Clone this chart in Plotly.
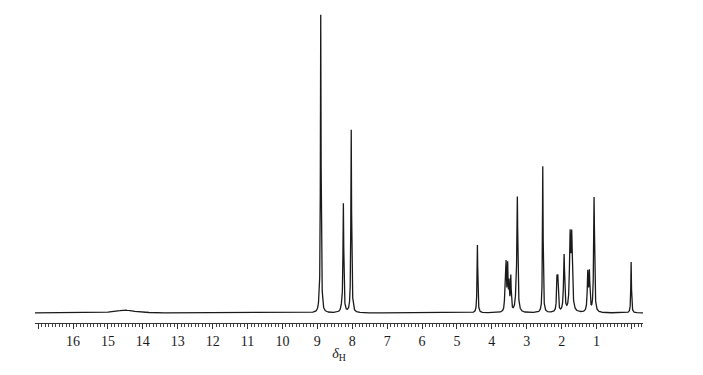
import numpy as np
import plotly.graph_objects as go

# Peak list (ppm, height in arbitrary units, half-width in ppm)
peak_ppm = [14.50, 8.955, 8.903, 8.86, 8.30, 8.255, 8.03, 7.98,
            4.415, 3.622, 3.593, 3.548, 3.507, 3.458, 3.295, 3.270,
            2.541, 2.135, 2.110, 1.931, 1.759, 1.711, 1.253, 1.206, 1.072, 0.010]
peak_height = [3.0, 4.0, 298.0, 3.0, 4.0, 108.0, 183.0, 2.5,
               68.0, 22.0, 44.0, 44.0, 26.0, 34.0, 20.0, 104.0,
               147.0, 30.0, 30.0, 57.0, 72.0, 72.0, 38.0, 38.0, 115.0, 51.0]
peak_width = [0.30, 0.012, 0.011, 0.012, 0.03, 0.013, 0.012, 0.012,
              0.012, 0.014, 0.013, 0.013, 0.013, 0.013, 0.03, 0.014,
              0.011, 0.014, 0.014, 0.018, 0.020, 0.020, 0.016, 0.016, 0.015, 0.011]

label_vals = [16, 15, 14, 13, 12, 11, 10, 9, 8, 7, 6, 5, 4, 3, 2, 1]
label_text = ["16", "15", "14", "13", "12", "11", "10", "9", "8", "7", "6", "5", "4", "3", "2", "1"]
extra_major = [17, 0]

x_lo, x_hi = -0.33, 17.09
x = np.linspace(x_hi, x_lo, 12000)
y = np.zeros_like(x)
for p, h, w in zip(peak_ppm, peak_height, peak_width):
    y += h / (1.0 + ((x - p) / w) ** 2)

fig = go.Figure()
fig.add_trace(go.Scatter(x=x, y=y, mode="lines",
                         line=dict(color="#1a1a1a", width=1.3),
                         hoverinfo="skip", showlegend=False))
fig.add_trace(go.Scatter(x=[x_hi, x_lo], y=[0, 0], xaxis="x2", mode="lines",
                         line=dict(width=0), opacity=0,
                         hoverinfo="skip", showlegend=False))

tickstyle = dict(ticks="outside", ticklen=5, tickwidth=1.2, tickcolor="#333")

fig.update_layout(
    width=695, height=359,
    margin=dict(l=27, r=60, t=2, b=44, autoexpand=False),
    paper_bgcolor="white", plot_bgcolor="white",
    font=dict(family="Liberation Serif", size=14, color="#222"),
    xaxis=dict(
        range=[x_hi, x_lo], automargin=False,
        showgrid=False, zeroline=False,
        showline=True, linecolor="#333", linewidth=1.3,
        tickvals=label_vals, ticktext=label_text,
        tickfont=dict(family="Liberation Serif", size=14, color="#1a1a1a"),
        minor=dict(ticks="outside", ticklen=2.5, tickwidth=0.8, tickcolor="#444",
                   dtick=0.1, tick0=0, showgrid=False),
        title=dict(text="<i>δ</i><sub>H</sub>", standoff=0,
                   font=dict(family="Liberation Serif", size=14, color="#1a1a1a")),
        **tickstyle,
    ),
    xaxis2=dict(
        range=[x_hi, x_lo], overlaying="x", side="bottom", anchor="y",
        automargin=False, showgrid=False, zeroline=False, showline=False,
        tickvals=extra_major, showticklabels=False, **tickstyle,
    ),
    yaxis=dict(range=[-10, 303], visible=False, showgrid=False, zeroline=False),
)

fig.write_html("out.html")
